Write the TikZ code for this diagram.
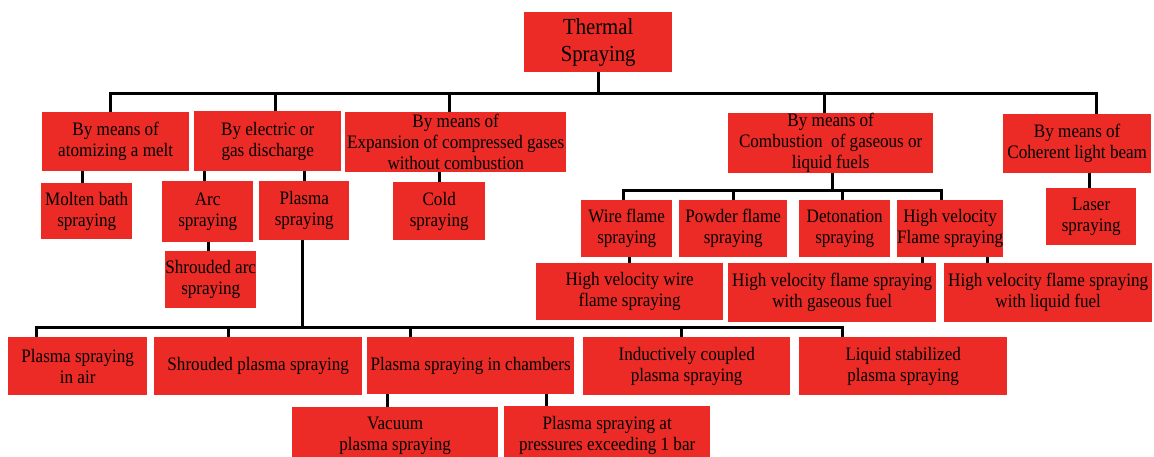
\documentclass[tikz,border=0pt]{standalone}
\usepackage{fontspec}
\setmainfont{Liberation Serif}[FakeStretch=0.9]
\definecolor{boxred}{RGB}{236,43,39}

\begin{document}
\begin{tikzpicture}[x=1pt,y=-1pt,
	box/.style={fill=boxred, anchor=north west, inner sep=0pt, align=center, font=\fontsize{19}{21}\selectfont},
	dims/.style 2 args={minimum width=#1pt, minimum height=#2pt},
	link/.style={line width=3pt, black}]
	\useasboundingbox (0,0) rectangle (1154,456);

	\node[box, dims={148}{60}, font=\fontsize{23}{27}\selectfont] (root) at (524,12) {Thermal\\Spraying};

	\node[box, dims={147}{59}] (atomize) at (42,112) {By means of\\atomizing a melt};
	\node[box, dims={147}{60}] (discharge) at (194,111) {By electric or\\gas discharge};
	\node[box, dims={221}{60}] (expansion) at (345,112) {By means of\\Expansion of compressed gases\\without combustion};
	\node[box, dims={205}{60}] (combustion) at (728,113) {By means of\\Combustion~ of gaseous or\\liquid fuels};
	\node[box, dims={148}{59}] (beam) at (1003,114) {By means of\\Coherent light beam};

	\node[box, dims={91}{56}] (molten) at (41,183) {Molten bath\\spraying};
	\node[box, dims={91}{61}] (arc) at (162,181) {Arc\\spraying};
	\node[box, dims={90}{59}] (plasma) at (259,181) {Plasma\\spraying};
	\node[box, dims={92}{58}] (cold) at (393,182) {Cold\\spraying};
	\node[box, dims={91}{57}] (shroudarc) at (165,251) {Shrouded arc\\spraying};
	\node[box, dims={90}{57}] (laser) at (1046,188) {Laser\\spraying};

	\node[box, dims={91}{57}] (wireflame) at (581,200) {Wire flame\\spraying};
	\node[box, dims={108}{57}] (powder) at (679,200) {Powder flame\\spraying};
	\node[box, dims={91}{57}] (detonation) at (799,200) {Detonation\\spraying};
	\node[box, dims={104}{57}] (hvof) at (897,200) {High velocity\\Flame spraying};

	\node[box, dims={187}{57}] (hvwire) at (536,263) {High velocity wire\\flame spraying};
	\node[box, dims={208}{59}] (gaseous) at (728,263) {High velocity flame spraying\\with gaseous fuel};
	\node[box, dims={208}{59}] (liquid) at (944,263) {High velocity flame spraying\\with liquid fuel};

	\node[box, dims={139}{58}] (air) at (8,337) {Plasma spraying\\in air};
	\node[box, dims={208}{58}] (shroudplasma) at (154,337) {Shrouded plasma spraying};
	\node[box, dims={207}{57}] (chambers) at (367,337) {Plasma spraying in chambers};
	\node[box, dims={207}{58}] (inductive) at (583,337) {Inductively coupled\\plasma spraying};
	\node[box, dims={208}{58}] (liqstab) at (799,337) {Liquid stabilized\\plasma spraying};

	\node[box, dims={206}{58}] (vacuum) at (292,407) {Vacuum\\plasma spraying};
	\node[box, dims={206}{58}] (pressures) at (504,406) {Plasma spraying at\\pressures exceeding 1 bar};

	% main branches
	\draw[link] (root.south) -- ++(0,21) -| ([xshift=-5.5pt]atomize.north);
	\draw[link] (root.south) -- ++(0,21) -| ([xshift=7.5pt]discharge.north);
	\draw[link] (root.south) -- ++(0,21) -| ([xshift=-6.5pt]expansion.north);
	\draw[link] (root.south) -- ++(0,21) -| ([xshift=-6.5pt]combustion.north);
	\draw[link] (root.south) -- ++(0,21) -| ([xshift=19pt]beam.north);

	\draw[link] ([xshift=-4.5pt]molten.north) -- ([xshift=-4.5pt]molten.north |- atomize.south);
	\draw[link] ([xshift=-3.5pt]arc.north) -- ([xshift=-3.5pt]arc.north |- discharge.south);
	\draw[link] (plasma.north) -- (plasma.north |- discharge.south);
	\draw[link] (cold.north) -- (cold.north |- expansion.south);
	\draw[link] ([xshift=-2.5pt]shroudarc.north) -- ([xshift=-2.5pt]shroudarc.north |- arc.south);
	\draw[link] ([xshift=-2pt]laser.north) -- ([xshift=-2pt]laser.north |- beam.south);

	% combustion
	\draw[link] ([xshift=1.5pt]combustion.south) -- ++(0,17) -| ([xshift=-3.5pt]wireflame.north);
	\draw[link] ([xshift=1.5pt]combustion.south) -- ++(0,17) -| (powder.north);
	\draw[link] ([xshift=1.5pt]combustion.south) -- ++(0,17) -| ([xshift=-2.5pt]detonation.north);
	\draw[link] ([xshift=1.5pt]combustion.south) -- ++(0,17) -| ([xshift=-9pt]hvof.north);
	\draw[link] (hvwire.north) -- (hvwire.north |- wireflame.south);
	\draw[link] ([xshift=90pt]gaseous.north) -- ([xshift=90pt]gaseous.north |- hvof.south);
	\draw[link] ([xshift=-61pt]liquid.north) -- ([xshift=-61pt]liquid.north |- hvof.south);

	% plasma
	\draw[link] ([xshift=-2pt]plasma.south) -- ++(0,87) -| ([xshift=-41.5pt]air.north);
	\draw[link] ([xshift=-2pt]plasma.south) -- ++(0,87) -| ([xshift=-30pt]shroudplasma.north);
	\draw[link] ([xshift=-2pt]plasma.south) -- ++(0,87) -| ([xshift=-60.5pt]chambers.north);
	\draw[link] ([xshift=-2pt]plasma.south) -- ++(0,87) -| ([xshift=-5.5pt]inductive.north);
	\draw[link] ([xshift=-2pt]plasma.south) -- ++(0,87) -| ([xshift=-61pt]liqstab.north);
	\draw[link] ([xshift=-8pt]vacuum.north) -- ([xshift=-8pt]vacuum.north |- chambers.south);
	\draw[link] ([xshift=-61pt]pressures.north) -- ([xshift=-61pt]pressures.north |- chambers.south);
\end{tikzpicture}
\end{document}
